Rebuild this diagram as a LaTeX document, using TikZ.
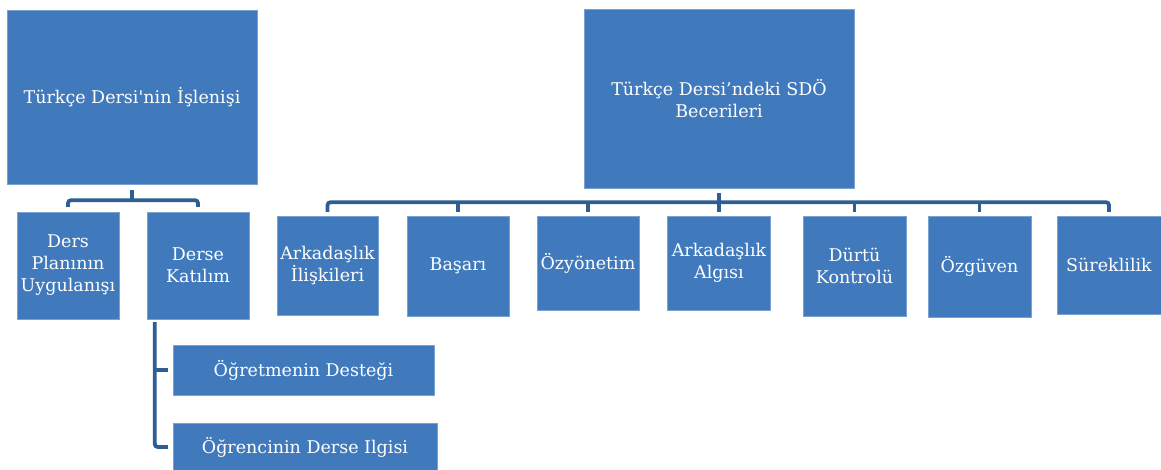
\documentclass[tikz,border=0pt]{standalone}
\usepackage{fontspec}
\setmainfont{DejaVu Serif}
\newfontfamily\rawserif{DejaVu Serif}[Ligatures=TeXOff]
\usetikzlibrary{calc}
\definecolor{boxblue}{RGB}{64,122,189}
\definecolor{linkblue}{RGB}{46,94,146}
\tikzset{
  box/.style={rectangle, fill=boxblue, draw=boxblue!70!white, line width=0.4pt,
    text=white, align=center, inner sep=1pt,
    font=\fontsize{17.5}{22}\selectfont},
  conn/.style={draw=linkblue, line width=3.8pt, rounded corners=3pt}
}
\begin{document}
\begin{tikzpicture}[x=1pt,y=-1pt]
\useasboundingbox (0,0) rectangle (1161,470);
\fill[white] (0,0) rectangle (1161,470);

% left hierarchy
\node[box, minimum width=250pt, minimum height=174pt] (L) at (132,97) {Türkçe Dersi{\rawserif '}nin İşlenişi};
\node[box, minimum width=102pt, minimum height=107pt] (LA) at (68,265.5) {Ders\\Planının\\Uygulanışı};
\node[box, minimum width=102pt, minimum height=107pt] (LB) at (198,265.5) {Derse\\Katılım};
\node[box, minimum width=261pt, minimum height=50pt] (D1) at (303.5,370) {Öğretmenin Desteği};
\node[box, minimum width=264pt, minimum height=48pt] (D2) at (305,447) {Öğrencinin Derse Ilgisi};

\coordinate (Lbar) at ($(L.south)+(0,16)$);
\draw[conn] ([yshift=-6pt]L.south) -- (Lbar);
\draw[conn] ([yshift=5pt]LA.north) |- (Lbar) -| ([yshift=5pt]LB.north);

\coordinate (Bv) at ($(LB.south west)+(8,3)$);
\draw[conn] (Bv) |- ([xshift=-5pt]D2.west);
\draw[conn] (Bv |- D1.west) -- ([xshift=-5pt]D1.west);

% right hierarchy
\node[box, minimum width=270pt, minimum height=179pt] (R) at (719,98.5) {Türkçe Dersi’ndeki SDÖ\\Becerileri};
\node[box, minimum width=101pt, minimum height=99pt] (R1) at (327.5,265.5) {Arkadaşlık\\İlişkileri};
\node[box, minimum width=102pt, minimum height=100pt] (R2) at (458,266) {Başarı};
\node[box, minimum width=102pt, minimum height=94pt] (R3) at (588,263) {Özyönetim};
\node[box, minimum width=103pt, minimum height=94pt] (R4) at (719,263) {Arkadaşlık\\Algısı};
\node[box, minimum width=103pt, minimum height=100pt] (R5) at (854.5,266) {Dürtü\\Kontrolü};
\node[box, minimum width=103pt, minimum height=101pt] (R6) at (979.5,266.5) {Özgüven};
\node[box, minimum width=104pt, minimum height=98pt] (R7) at (1109,265) {Süreklilik};

\coordinate (Rbar) at ($(R.south)+(0,14)$);
\draw[conn] ([yshift=-5pt]R.south) -- (Rbar);
\draw[conn] ([yshift=4pt]R1.north) |- (Rbar) -| ([yshift=4pt]R7.north);
\foreach \k in {R2,R3,R4,R5,R6}
  \draw[conn] ([yshift=4pt]\k.north) -- (\k.north |- Rbar);
\end{tikzpicture}
\end{document}
